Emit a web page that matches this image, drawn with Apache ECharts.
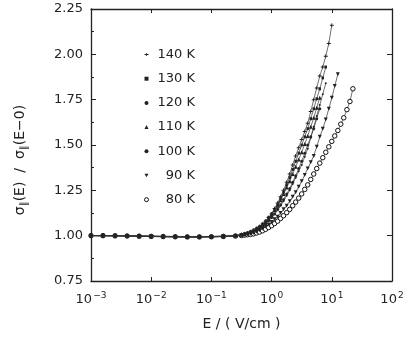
<!DOCTYPE html>
<html>
<head>
<meta charset="utf-8">
<script src="https://cdn.jsdelivr.net/npm/echarts@6/dist/echarts.min.js"></script>
<style>
html, body { margin: 0; padding: 0; background: #fff; }
#ct1 { width: 409px; height: 339px; }
</style>
</head>
<body>
<div id="ct1"></div>
<script>
// field values E (V/cm), shared by all temperatures
var fieldE = [0.001, 0.00158, 0.00251, 0.00398, 0.00631, 0.01, 0.0158, 0.0251, 0.0398, 0.0631,
	0.1, 0.158, 0.251,
	0.316, 0.355, 0.398, 0.447, 0.501, 0.562, 0.631, 0.708, 0.794, 0.891,
	1.0, 1.12, 1.26, 1.41, 1.58, 1.78, 2.0, 2.24, 2.51, 2.82,
	3.16, 3.55, 3.98, 4.47, 5.01, 5.62, 6.31, 7.08, 7.94, 8.91,
	10.0, 11.2, 12.6, 14.1, 15.8, 17.8, 20.0, 22.4];

var temps = ['140 K', '130 K', '120 K', '110 K', '100 K', '90 K', '80 K'];

var s140 = [1.000, 1.001, 0.999, 1.000, 0.999, 0.998, 0.997, 0.996, 0.995, 0.995, 0.996, 0.997, 1.000,
	1.005, 1.01, 1.015, 1.022, 1.03, 1.04, 1.05, 1.064, 1.08, 1.10,
	1.12, 1.15, 1.18, 1.215, 1.25, 1.295, 1.34, 1.39, 1.44, 1.485,
	1.53, 1.575, 1.62, 1.685, 1.75, 1.815, 1.88, 1.93, 1.99, 2.06, 2.16];
var s130 = [1.001, 1.000, 1.000, 0.999, 0.998, 0.998, 0.996, 0.995, 0.994, 0.994, 0.995, 0.997, 1.001,
	1.006, 1.011, 1.016, 1.023, 1.03, 1.04, 1.05, 1.064, 1.08, 1.10,
	1.12, 1.145, 1.17, 1.205, 1.24, 1.28, 1.32, 1.365, 1.41, 1.455,
	1.50, 1.545, 1.59, 1.645, 1.70, 1.755, 1.81, 1.87, 1.93];
var s120 = [1.000, 0.999, 1.000, 0.998, 0.998, 0.997, 0.995, 0.994, 0.993, 0.994, 0.995, 0.997, 1.000,
	1.004, 1.007, 1.01, 1.015, 1.02, 1.03, 1.04, 1.052, 1.065, 1.082,
	1.10, 1.12, 1.14, 1.165, 1.19, 1.22, 1.25, 1.285, 1.32, 1.355,
	1.39, 1.435, 1.48, 1.54, 1.60, 1.66, 1.72, 1.78, 1.84];
var s110 = [1.000, 1.000, 0.999, 0.999, 0.997, 0.996, 0.995, 0.994, 0.993, 0.993, 0.994, 0.996, 1.000,
	1.005, 1.009, 1.014, 1.02, 1.028, 1.037, 1.048, 1.06, 1.075, 1.093,
	1.115, 1.14, 1.165, 1.195, 1.23, 1.265, 1.30, 1.34, 1.38, 1.42,
	1.46, 1.505, 1.55, 1.60, 1.65, 1.705, 1.76];
var s100 = [1.001, 1.000, 0.999, 0.998, 0.997, 0.996, 0.994, 0.993, 0.992, 0.992, 0.993, 0.995, 0.999,
	1.003, 1.006, 1.01, 1.015, 1.022, 1.03, 1.04, 1.052, 1.065, 1.082,
	1.10, 1.12, 1.145, 1.17, 1.20, 1.23, 1.26, 1.295, 1.33, 1.37,
	1.41, 1.455, 1.50, 1.545, 1.59, 1.645, 1.70];
var s90 = [1.000, 0.999, 0.999, 0.998, 0.997, 0.995, 0.994, 0.993, 0.992, 0.992, 0.993, 0.995, 0.998,
	1.002, 1.004, 1.007, 1.011, 1.015, 1.022, 1.03, 1.04, 1.05, 1.062,
	1.075, 1.09, 1.105, 1.125, 1.145, 1.165, 1.19, 1.215, 1.24, 1.27,
	1.30, 1.335, 1.37, 1.405, 1.44, 1.49, 1.545, 1.59, 1.64, 1.70,
	1.76, 1.825, 1.89];
var s80 = [1.000, 1.000, 0.999, 0.998, 0.997, 0.996, 0.995, 0.994, 0.993, 0.993, 0.994, 0.996, 0.998,
	1.001, 1.003, 1.005, 1.007, 1.01, 1.015, 1.02, 1.027, 1.035, 1.045,
	1.055, 1.067, 1.08, 1.095, 1.11, 1.127, 1.145, 1.165, 1.185, 1.207,
	1.23, 1.255, 1.28, 1.31, 1.34, 1.37, 1.40, 1.43, 1.46, 1.49,
	1.52, 1.55, 1.58, 1.615, 1.65, 1.695, 1.74, 1.81];

var ink = '#222';
var symbols = [
	{ s: 'path://M0,4H10V6H0Z M4,1H6V9H4Z', size: 4 },
	{ s: 'rect', size: [2.5, 3] },
	{ s: 'circle', size: 2 },
	{ s: 'triangle', size: 4 },
	{ s: 'circle', size: 3 },
	{ s: 'path://M0,0L10,0L5,9Z', size: 4 },
	{ s: 'circle', size: 4.5, hollow: true }
];
var allVals = [s140, s130, s120, s110, s100, s90, s80];

function pairs(vals) {
	var out = [];
	for (var i = 0; i < vals.length; i++) {
		out.push([fieldE[i], vals[i]]);
	}
	return out;
}

function expLabel(v) {
	var p = Math.round(Math.log(v) / Math.LN10);
	return '{b|10}{s|' + (p < 0 ? '\u2212' + (-p) : p) + '}';
}

var series = [];
var legendData = [];
for (var k = 0; k < temps.length; k++) {
	var hollow = !!symbols[k].hollow;
	var style = hollow ? { color: '#fff', borderColor: '#111', borderWidth: 1 } : { color: ink, borderWidth: 0 };
	series.push({
		name: temps[k],
		type: 'line',
		data: pairs(allVals[k]),
		symbol: symbols[k].s,
		symbolSize: symbols[k].size,
		showAllSymbol: true,
		lineStyle: { color: '#333', width: 0.7 },
		itemStyle: style,
		emphasis: { disabled: true },
		animation: false,
		z: 10 - k
	});
	legendData.push({ name: temps[k], icon: symbols[k].s, itemStyle: style });
}

var axisLine = { lineStyle: { color: ink, width: 1.3 } };
var option1 = {
	backgroundColor: '#fff',
	animation: false,
	grid: { left: 91, right: 17, top: 9, bottom: 58 },
	legend: {
		orient: 'vertical',
		left: 139,
		top: 43,
		itemWidth: 4,
		itemHeight: 4,
		itemGap: 11.2,
		data: legendData,
		selectedMode: false,
		textStyle: { color: ink, fontSize: 13, fontFamily: 'DejaVu Sans', padding: [0, 0, 0, 4] },
		formatter: function (n) { return n.length < 5 ? '\u2007' + n : n; }
	},
	xAxis: [{
		type: 'log',
		logBase: 10,
		min: 0.001,
		max: 100,
		axisLine: axisLine,
		axisTick: { inside: true, length: 4, lineStyle: { color: ink } },
		splitLine: { show: false },
		axisLabel: {
			margin: 10,
			formatter: expLabel,
			rich: {
				b: { fontSize: 13, fontFamily: 'DejaVu Sans', color: ink },
				s: { fontSize: 9, fontFamily: 'DejaVu Sans', color: ink, padding: [0, 0, 9, 1] }
			}
		},
		name: 'E / ( V/cm )',
		nameLocation: 'middle',
		nameGap: 36,
		nameTextStyle: { fontSize: 14, fontFamily: 'DejaVu Sans', color: ink }
	}, {
		type: 'log',
		logBase: 10,
		min: 0.001,
		max: 100,
		position: 'top',
		axisLine: axisLine,
		axisTick: { inside: true, length: 4, lineStyle: { color: ink } },
		axisLabel: { show: false },
		splitLine: { show: false }
	}],
	yAxis: [{
		type: 'value',
		min: 0.75,
		max: 2.25,
		interval: 0.25,
		axisLine: axisLine,
		axisTick: { inside: true, length: 5, lineStyle: { color: ink } },
		minorTick: { show: true, splitNumber: 2, length: 3, lineStyle: { color: ink } },
		splitLine: { show: false },
		axisLabel: {
			margin: 8,
			fontSize: 13,
			fontFamily: 'DejaVu Sans',
			color: ink,
			formatter: function (v) { return v.toFixed(2); }
		}
	}, {
		type: 'value',
		min: 0.75,
		max: 2.25,
		interval: 0.25,
		position: 'right',
		axisLine: axisLine,
		axisTick: { inside: true, length: 5, lineStyle: { color: ink } },
		axisLabel: { show: false },
		splitLine: { show: false }
	}],
	graphic: [{
		type: 'text',
		x: 20,
		y: 160,
		rotation: Math.PI / 2,
		style: {
			text: '{a|\u03c3}{s|\u2225}{a|(E)  /  \u03c3}{s|\u2225}{a|(E\u22120)}',
			align: 'center',
			verticalAlign: 'middle',
			rich: {
				a: { fontSize: 14, fontFamily: 'DejaVu Sans', fill: ink, color: ink },
				s: { fontSize: 10, fontFamily: 'DejaVu Sans', fill: ink, color: ink, padding: [9, 0, 0, 0] }
			}
		}
	}],
	series: series
};

var myChart1 = echarts.init(document.getElementById('ct1'));
myChart1.setOption(option1, true);
</script>
</body>
</html>
